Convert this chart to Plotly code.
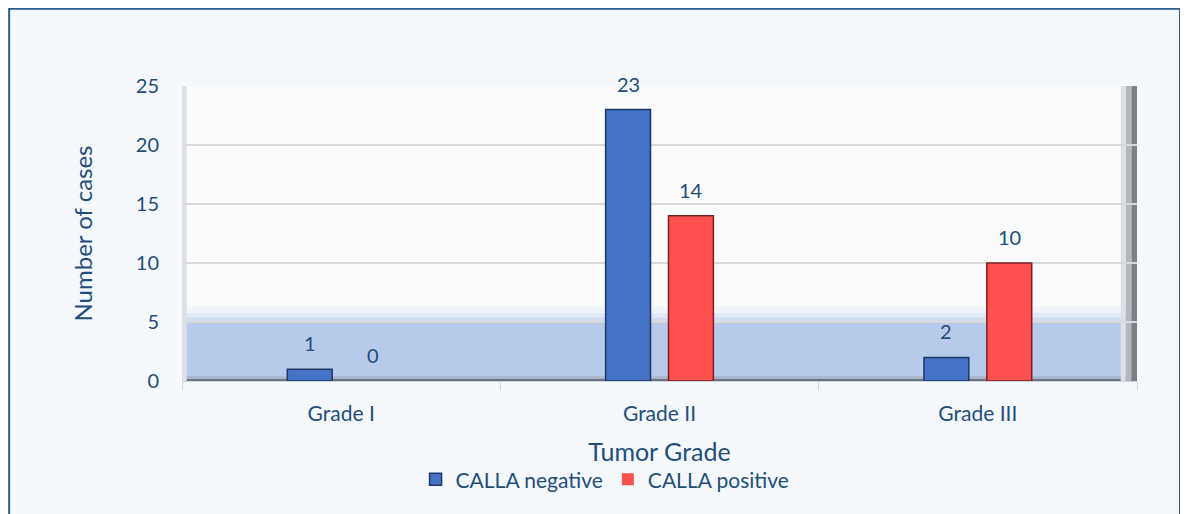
import plotly.graph_objects as go

grades = ["Grade I", "Grade II", "Grade III"]
calla_negative = [1, 23, 2]
calla_positive = [0, 14, 10]
series_names = ["CALLA negative", "CALLA positive"]
y_ticks = [0, 5, 10, 15, 20, 25]

TEXT = "#1F4E79"
FONT = "Lato, 'Open Sans', sans-serif"
BLUE = "#4472C4"
RED = "#FF5050"

fig = go.Figure()
fig.add_trace(go.Bar(
    x=grades, y=calla_negative, name=series_names[0],
    marker=dict(color=BLUE, line=dict(color="#203864",
                                      width=[0 if v == 0 else 1.5 for v in calla_negative])),
))
fig.add_trace(go.Bar(
    x=grades, y=calla_positive, name=series_names[1],
    marker=dict(color=RED, line=dict(color="#7F1F1F",
                                     width=[0 if v == 0 else 1.5 for v in calla_positive])),
))

# value labels above each bar
bar_offset = 31.5
for vals, shift in ((calla_negative, -bar_offset), (calla_positive, bar_offset)):
    for g, v in zip(grades, vals):
        fig.add_annotation(
            x=g, y=v, text=str(v), showarrow=False,
            xshift=shift, yshift=26, yanchor="middle",
            font=dict(size=20, color=TEXT, family=FONT),
        )

shapes = [
    # outer chart border
    dict(type="rect", xref="paper", yref="paper", x0=-0.181, x1=1.045, y0=-0.6, y1=1.262,
         line=dict(color="#2E5E8E", width=2), fillcolor="rgba(0,0,0,0)", layer="below"),
    # pale blue floor band with a soft fade on top
    dict(type="rect", xref="paper", yref="y", x0=0, x1=1, y0=0, y1=5,
         fillcolor="#B8CAEC", line_width=0, layer="below"),
    dict(type="rect", xref="paper", yref="y", x0=0, x1=1, y0=5, y1=5.4,
         fillcolor="#D0DCF2", line_width=0, layer="below"),
    dict(type="rect", xref="paper", yref="y", x0=0, x1=1, y0=5.4, y1=5.8,
         fillcolor="#E3EAF7", line_width=0, layer="below"),
    dict(type="rect", xref="paper", yref="y", x0=0, x1=1, y0=5.8, y1=6.3,
         fillcolor="#F1F5FB", line_width=0, layer="below"),
    # floor edge
    dict(type="rect", xref="paper", yref="y", x0=0, x1=1, y0=0, y1=0.2,
         fillcolor="#6B7585", line_width=0, layer="below"),
    dict(type="rect", xref="paper", yref="y", x0=0, x1=1, y0=0.2, y1=0.4,
         fillcolor="#A8B4C8", line_width=0, layer="below"),
    # right wall shading
    dict(type="rect", xref="paper", yref="y", x0=0.994, x1=1, y0=0, y1=25,
         fillcolor="#7D8187", line_width=0, layer="below"),
    dict(type="rect", xref="paper", yref="y", x0=0.988, x1=0.994, y0=0, y1=25,
         fillcolor="#B4B8BE", line_width=0, layer="below"),
    dict(type="rect", xref="paper", yref="y", x0=0.983, x1=0.988, y0=0, y1=25,
         fillcolor="#DDE0E4", line_width=0, layer="below"),
    # left wall edge
    dict(type="rect", xref="paper", yref="y", x0=0, x1=0.005, y0=0, y1=25,
         fillcolor="#DCDFE4", line_width=0, layer="below"),
]
fig.update_layout(shapes=shapes)

fig.update_layout(
    width=1180, height=506,
    paper_bgcolor="#F5F8FC",
    plot_bgcolor="#FAFBFD",
    margin=dict(l=174, r=51, t=78, b=133),
    barmode="group",
    bargap=0.605,
    bargroupgap=0.286,
    font=dict(family=FONT, color=TEXT),
    showlegend=True,
    legend=dict(
        orientation="h", x=0.443, xanchor="center", y=-0.265, yanchor="top",
        font=dict(size=21, color=TEXT, family=FONT),
        bgcolor="rgba(0,0,0,0)", tracegroupgap=0,
    ),
    xaxis=dict(
        showgrid=False, showline=True, linecolor="#D0D4DA", linewidth=1,
        ticks="outside", tickson="boundaries", ticklen=8, tickcolor="#D0D4DA",
        tickfont=dict(size=21, color=TEXT, family=FONT), ticklabelstandoff=14,
        title=dict(text="Tumor Grade", font=dict(size=25, color=TEXT, family=FONT), standoff=19),
    ),
    yaxis=dict(
        range=[0, 25], tickvals=y_ticks,
        showgrid=True, gridcolor="#D9D9D9", gridwidth=2,
        zeroline=False, showline=False,
        tickfont=dict(size=20, color=TEXT, family=FONT), ticklabelstandoff=22,
        title=dict(text="Number of cases", font=dict(size=24, color=TEXT, family=FONT), standoff=36),
    ),
)

fig.write_html("out.html")
